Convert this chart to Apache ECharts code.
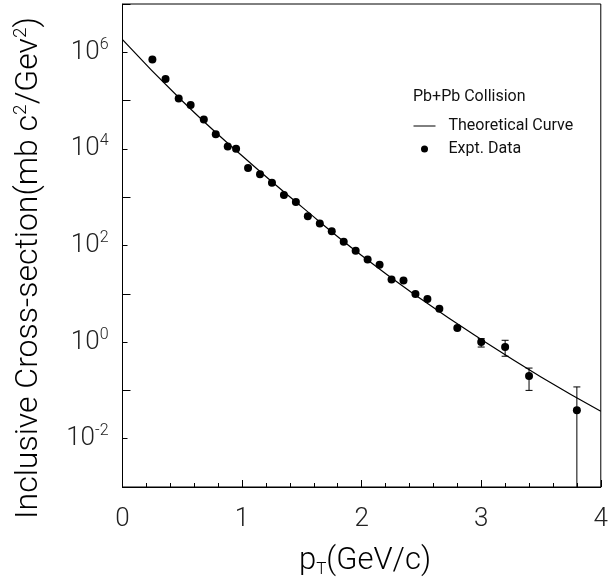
<!DOCTYPE html>
<html><head><meta charset="utf-8">
<script src="https://cdn.jsdelivr.net/npm/echarts@6/dist/echarts.min.js"></script>
<style>html,body{margin:0;padding:0;background:#fff}#c{width:611px;height:583px}</style>
</head><body><div id="c"></div>
<script>
// Experimental data
var exptX = [0.25,0.36,0.47,0.57,0.68,0.78,0.88,0.95,1.05,1.15,1.25,1.35,1.45,1.55,1.65,1.75,1.85,1.95,2.05,2.15,2.25,2.35,2.45,2.55,2.65,2.80,3.00,3.20,3.40,3.80];
var exptY = [7.1e5,2.8e5,1.1e5,8.1e4,4.05e4,2.0e4,1.12e4,1.01e4,4.0e3,3.0e3,2.0e3,1.11e3,795,403,284,197,120,78,51,40,19.7,18.8,9.9,7.8,4.9,1.96,1.0,0.79,0.199,0.039];
// Error bars
var errX = [3.0,3.2,3.4,3.8];
var errLow = [0.79,0.51,0.10,0.001];
var errHigh = [1.18,1.09,0.29,0.118];
// Theoretical curve
var curveX = [0,0.5,1,1.5,2,2.5,3,3.5,4];
var curveY = [1.83e6,9.8e4,7.2e3,630,62,7.7,1.13,0.19,0.037];

var FONT = 'Roboto';
var chart = echarts.init(document.getElementById('c'), null, {renderer:'canvas'});
var option = {
  animation:false,
  backgroundColor:'#fff',
  grid:{left:122.5,right:4.5,top:4,bottom:96,show:true,borderColor:'#000',borderWidth:1,containLabel:false},
  xAxis:{type:'value',min:0,max:4,interval:1,
    axisLine:{onZero:false,lineStyle:{color:'#000',width:1}},
    axisTick:{inside:true,length:7,lineStyle:{color:'#000'}},
    minorTick:{show:true,splitNumber:5,length:4,lineStyle:{color:'#000'}},
    splitLine:{show:false},minorSplitLine:{show:false},
    axisLabel:{fontFamily:FONT,fontWeight:300,fontSize:26,color:'#222',margin:19}
  },
  yAxis:[{type:'log',logBase:10,min:0.001,max:1e7,interval:1,
    axisLine:{lineStyle:{color:'#000',width:1}},
    axisTick:{inside:true,length:5,lineStyle:{color:'#000'}},
    splitLine:{show:false},
    axisLabel:{margin:14,formatter:function(v){var e=Math.round(Math.log10(v)); if(e%2!==0) return ''; return '{b|10}{s|'+e+'}';},
      rich:{b:{fontFamily:FONT,fontWeight:300,fontSize:26,color:'#222'},s:{fontFamily:FONT,fontWeight:300,fontSize:16,color:'#222',padding:[0,0,15,0]}}}
  },{type:'value',min:-3,max:7,interval:2,position:'left',
    axisLine:{show:false},axisTick:{inside:true,length:8,lineStyle:{color:'#000'}},
    axisLabel:{show:false},splitLine:{show:false}
  }],
  legend:{orient:'vertical',left:413,top:118,padding:0,itemWidth:22,itemHeight:7,itemGap:7,
    lineStyle:{width:1},
    textStyle:{fontFamily:FONT,fontSize:16,color:'#111',padding:[0,0,0,8]},
    data:[{name:'Theoretical Curve',itemStyle:{opacity:0},lineStyle:{width:1}},{name:'Expt. Data',icon:'circle'}]},
  graphic:[
    {type:'text',left:413,top:89,style:{text:'Pb+Pb Collision',font:'16px '+FONT,fill:'#111'}},
    {type:'text',x:29,y:268,rotation:Math.PI/2,style:{text:'{a|Inclusive Cross-section(mb c}{s|2}{a|/Gev}{s|2}{a|)}',align:'center',verticalAlign:'middle',
      rich:{a:{fontFamily:FONT,fontWeight:300,fontSize:32,color:'#222'},s:{fontFamily:FONT,fontWeight:300,fontSize:19,color:'#222',padding:[0,0,16,0]}}}},
    {type:'text',x:365,y:561,style:{text:'{a|p}{t|T}{a|(GeV/c)}',align:'center',verticalAlign:'middle',
      rich:{a:{fontFamily:FONT,fontWeight:300,fontSize:31,color:'#222'},t:{fontFamily:FONT,fontWeight:300,fontSize:17,color:'#222',padding:[17,0,0,0]}}}}
  ],
  series:[
    {name:'Theoretical Curve',type:'line',smooth:true,symbol:'none',showSymbol:false,
      lineStyle:{color:'#000',width:1.2},itemStyle:{color:'#000'},
      data:curveX.map(function(x,i){return [x,curveY[i]];})},
    {name:'Expt. Data',type:'scatter',symbol:'circle',symbolSize:8,itemStyle:{color:'#000',opacity:1},
      data:exptX.map(function(x,i){return [x,exptY[i]];}),z:4},
    {name:'err',type:'custom',z:3,
      data:errX.map(function(x,i){return [x,errLow[i],errHigh[i]];}),
      renderItem:function(params,api){
        var lo=api.coord([api.value(0),api.value(1)]);
        var hi=api.coord([api.value(0),api.value(2)]);
        var w=3.5, children=[
          {type:'line',shape:{x1:hi[0],y1:hi[1],x2:lo[0],y2:lo[1]},style:{stroke:'#000',lineWidth:1}},
          {type:'line',shape:{x1:hi[0]-w,y1:hi[1],x2:hi[0]+w,y2:hi[1]},style:{stroke:'#000',lineWidth:1}}];
        if(api.value(1)>0.0011) children.push({type:'line',shape:{x1:lo[0]-w,y1:lo[1],x2:lo[0]+w,y2:lo[1]},style:{stroke:'#000',lineWidth:1}});
        return {type:'group',children:children};
      }}
  ]
};
chart.setOption(option);
</script></body></html>
